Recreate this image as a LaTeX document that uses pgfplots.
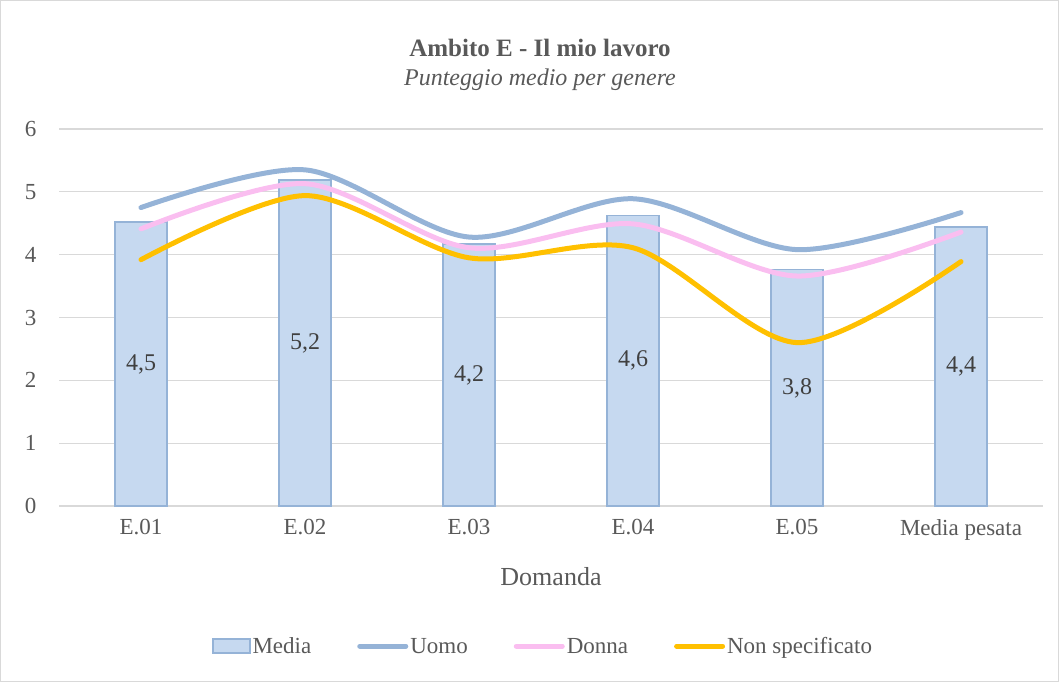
\documentclass[border=0pt]{standalone}
\usepackage{fontspec}
\setmainfont{Liberation Serif}
\usepackage{pgfplots}
\pgfplotsset{compat=1.18}
\definecolor{textgray}{HTML}{595959}
\definecolor{gridgray}{HTML}{D9D9D9}
\definecolor{barfill}{HTML}{C6D9F0}
\definecolor{barborder}{HTML}{95B3D7}
\definecolor{uomo}{HTML}{95B3D7}
\definecolor{donna}{HTML}{FABEF0}
\definecolor{nonspec}{HTML}{FFC000}
\begin{document}
\begin{tikzpicture}[x=1pt,y=1pt]
\useasboundingbox (0pt,0pt) rectangle (1059pt,682pt);
\draw[draw=gridgray, line width=1pt] (0.5pt,0.5pt) rectangle (1058.5pt,681.5pt);
\node[font=\fontsize{25}{29}\selectfont\bfseries, text=textgray] at (540pt,634pt) {Ambito E - Il mio lavoro};
\node[font=\fontsize{24}{28}\selectfont\itshape, text=textgray] at (540pt,602pt) {Punteggio medio per genere};
\begin{axis}[
  at={(141pt,176pt)}, anchor=origin,
  scale only axis, width=984pt, height=377pt,
  xmin=-0.5, xmax=5.5, ymin=0, ymax=6,
  ytick={0,1,2,3,4,5,6},
  xtick={0,1,2,3,4,5},
  xticklabels={E.01,E.02,E.03,E.04,E.05,Media pesata},
  /pgf/number format/assume math mode=true,
  axis line style={draw=none},
  major tick length=0pt,
  ymajorgrids, grid style={draw=gridgray, line width=1.2pt},
  tick label style={font=\fontsize{23}{27}\selectfont, text=textgray},
  yticklabel style={xshift=-19pt},
  xticklabel style={yshift=-10pt},
  legend style={draw=none, fill=none, at={(axis description cs:0.492,-0.377)}, anchor=center,
    font=\fontsize{23}{27}\selectfont, text=textgray,
    nodes={text height=16pt, text depth=5pt, inner ysep=0pt},
    /tikz/every even column/.append style={column sep=44pt}},
  legend columns=4,
  clip=false,
]
\addplot[ybar, bar width=52pt, fill=barfill, draw=barborder, line width=1.3pt,
  nodes near coords,
  point meta=explicit,
  visualization depends on={y \as \rawy},
  nodes near coords style={/pgf/number format/use comma, /pgf/number format/fixed, /pgf/number format/fixed zerofill, /pgf/number format/precision=1, /pgf/number format/assume math mode=true},
  every node near coord/.append style={anchor=center, yshift={-31.42*\rawy}, font=\fontsize{24}{28}\selectfont, text=black!75, text height=, text depth=},
  legend image code/.code={\draw[fill=barfill, draw=barborder, line width=1.3pt] (0pt,-5pt) rectangle (37pt,9pt);}
] coordinates {
  (0,4.52) [4.5]
  (1,5.19) [5.2]
  (2,4.17) [4.2]
  (3,4.62) [4.6]
  (4,3.76) [3.8]
  (5,4.44) [4.4]
};
\addlegendentry{Media}
\addplot[smooth, uomo, line width=5pt, line cap=round,
  legend image code/.code={\draw[uomo, line width=5pt, line cap=round] (3pt,2pt) -- (49pt,2pt);}]
coordinates {(0,4.75) (1,5.35) (2,4.28) (3,4.89) (4,4.08) (5,4.67)};
\addlegendentry{Uomo}
\addplot[smooth, donna, line width=5pt, line cap=round,
  legend image code/.code={\draw[donna, line width=5pt, line cap=round] (3pt,2pt) -- (49pt,2pt);}]
coordinates {(0,4.41) (1,5.13) (2,4.11) (3,4.49) (4,3.66) (5,4.36)};
\addlegendentry{Donna}
\addplot[smooth, nonspec, line width=5pt, line cap=round,
  legend image code/.code={\draw[nonspec, line width=5pt, line cap=round] (3pt,2pt) -- (49pt,2pt);}]
coordinates {(0,3.92) (1,4.94) (2,3.95) (3,4.11) (4,2.60) (5,3.89)};
\addlegendentry{Non specificato}
\node[font=\fontsize{26}{30}\selectfont, text=textgray] at (axis description cs:0.5,-0.188) {Domanda};
\end{axis}
\end{tikzpicture}
\end{document}
